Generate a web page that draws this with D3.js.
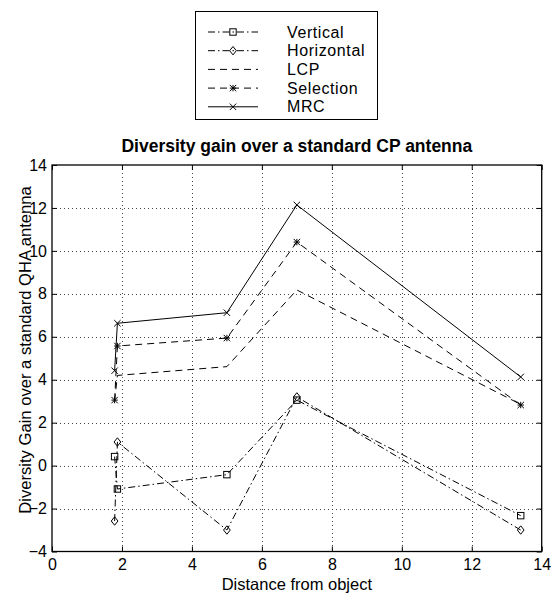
<!DOCTYPE html>
<html>
<head>
<meta charset="utf-8">
<script src="https://cdn.jsdelivr.net/npm/d3@7"></script>
<style>
  html, body { margin: 0; padding: 0; background: #fff; }
  svg { display: block; font-family: "Liberation Sans", Arial, Helvetica, sans-serif; }
</style>
</head>
<body>
<svg id="chart" width="551" height="593"></svg>
<script>
// ---- data ----
const distance   = [1.79, 1.87, 5, 7, 13.4];
const vertical   = [0.42, -1.09, -0.42, 3.05, -2.33];
const horizontal = [-2.58, 1.1, -3.0, 3.2, -3.0];
const lcp        = [3.0, 4.2, 4.61, 8.18, 2.85];
const selection  = [3.05, 5.57, 5.94, 10.41, 2.82];
const mrc        = [4.42, 6.63, 7.12, 12.14, 4.13];
const seriesNames = ["Vertical", "Horizontal", "LCP", "Selection", "MRC"];
const xTicks = [0, 2, 4, 6, 8, 10, 12, 14];
const yTicks = [-4, -2, 0, 2, 4, 6, 8, 10, 12, 14];
const titleText = "Diversity gain over a standard CP antenna";
const xLabelText = "Distance from object";
const yLabelText = "Diversity Gain over a standard QHA antenna";

// ---- layout ----
const svg = d3.select("#chart");
const L = 52, R = 541.7, T = 165, B = 551.5;
const x = d3.scaleLinear().domain([0, 14]).range([L, R]);
const y = d3.scaleLinear().domain([-4, 14]).range([B, T]);

const styles = {
  Vertical:   { dash: "7,3,1.5,3", marker: "square" },
  Horizontal: { dash: "7,3,1.5,3", marker: "diamond" },
  LCP:        { dash: "7,5", marker: null },
  Selection:  { dash: "7,5", marker: "star" },
  MRC:        { dash: null, marker: "x" }
};
const seriesData = { Vertical: vertical, Horizontal: horizontal, LCP: lcp, Selection: selection, MRC: mrc };

// grid
const grid = svg.append("g");
xTicks.slice(1, -1).forEach(t => {
  grid.append("line").attr("x1", Math.round(x(t)) + 0.5).attr("x2", Math.round(x(t)) + 0.5)
    .attr("y1", T).attr("y2", B).attr("stroke", "#444").attr("stroke-width", 1).attr("stroke-dasharray", "1,3");
});
yTicks.slice(1, -1).forEach(t => {
  grid.append("line").attr("y1", Math.round(y(t)) + 0.5).attr("y2", Math.round(y(t)) + 0.5)
    .attr("x1", L).attr("x2", R).attr("stroke", "#444").attr("stroke-width", 1).attr("stroke-dasharray", "1,3");
});

// axes (inner ticks on all sides)
const tickLen = 5;
const fontSize = 16;
svg.append("g").attr("transform", `translate(0,${B})`)
  .call(d3.axisBottom(x).tickValues(xTicks).tickSize(-tickLen).tickPadding(7).tickFormat(d3.format("d")))
  .call(g => { g.select(".domain").remove(); g.selectAll("text").attr("font-size", fontSize).attr("fill", "#000").attr("font-family", null); g.selectAll("line").attr("stroke", "#000"); });
svg.append("g").attr("transform", `translate(0,${T})`)
  .call(d3.axisTop(x).tickValues(xTicks).tickSize(-tickLen).tickFormat(""))
  .call(g => { g.select(".domain").remove(); g.selectAll("line").attr("stroke", "#000"); });
svg.append("g").attr("transform", `translate(${L},0)`)
  .call(d3.axisLeft(y).tickValues(yTicks).tickSize(-tickLen).tickPadding(5).tickFormat(d3.format("d")))
  .call(g => { g.select(".domain").remove(); g.selectAll("text").attr("font-size", fontSize).attr("fill", "#000").attr("font-family", null); g.selectAll("line").attr("stroke", "#000"); });
svg.append("g").attr("transform", `translate(${R},0)`)
  .call(d3.axisRight(y).tickValues(yTicks).tickSize(-tickLen).tickFormat(""))
  .call(g => { g.select(".domain").remove(); g.selectAll("line").attr("stroke", "#000"); });

// frame
svg.append("rect").attr("x", L).attr("y", T).attr("width", R - L).attr("height", B - T)
  .attr("fill", "none").attr("stroke", "#000").attr("stroke-width", 1.3);

// markers
function drawMarker(g, type, cx, cy) {
  const s = 3.2;
  if (type === "square") {
    g.append("rect").attr("x", cx - s).attr("y", cy - s).attr("width", 2 * s).attr("height", 2 * s)
      .attr("fill", "none").attr("stroke", "#000").attr("stroke-width", 1);
  } else if (type === "diamond") {
    const d = 4.2;
    g.append("path").attr("d", `M${cx},${cy - d}L${cx + d * 0.8},${cy}L${cx},${cy + d}L${cx - d * 0.8},${cy}Z`)
      .attr("fill", "none").attr("stroke", "#000").attr("stroke-width", 1);
  } else if (type === "x") {
    g.append("path").attr("d", `M${cx - s},${cy - s}L${cx + s},${cy + s}M${cx - s},${cy + s}L${cx + s},${cy - s}`)
      .attr("stroke", "#000").attr("stroke-width", 1);
  } else if (type === "star") {
    g.append("path").attr("d", `M${cx - s},${cy - s}L${cx + s},${cy + s}M${cx - s},${cy + s}L${cx + s},${cy - s}M${cx},${cy - s}L${cx},${cy + s}M${cx - s},${cy}L${cx + s},${cy}`)
      .attr("stroke", "#000").attr("stroke-width", 1);
  }
}

// lines
const line = d3.line().x(d => x(d[0])).y(d => y(d[1]));
const plot = svg.append("g");
seriesNames.forEach(name => {
  const pts = distance.map((d, i) => [d, seriesData[name][i]]);
  const st = styles[name];
  plot.append("path").attr("d", line(pts)).attr("fill", "none").attr("stroke", "#000")
    .attr("stroke-width", 1).attr("stroke-dasharray", st.dash);
  if (st.marker) pts.forEach(p => drawMarker(plot, st.marker, x(p[0]), y(p[1])));
});

// title and labels
svg.append("text").attr("x", (L + R) / 2).attr("y", 152).attr("text-anchor", "middle")
  .attr("font-size", 17.5).attr("font-weight", "bold").text(titleText);
svg.append("text").attr("x", (L + R) / 2).attr("y", 589.5).attr("text-anchor", "middle")
  .attr("font-size", 16.5).text(xLabelText);
svg.append("text").attr("transform", "translate(31,350) rotate(-90)").attr("text-anchor", "middle")
  .attr("font-size", 16.6).text(yLabelText);

// legend
const lg = svg.append("g");
lg.append("rect").attr("x", 195.5).attr("y", 11.5).attr("width", 182).attr("height", 108)
  .attr("fill", "#fff").attr("stroke", "#000").attr("stroke-width", 1);
seriesNames.forEach((name, i) => {
  const ly = 32 + i * 18.7;
  const st = styles[name];
  lg.append("line").attr("x1", 208).attr("x2", 258).attr("y1", ly).attr("y2", ly)
    .attr("stroke", "#000").attr("stroke-width", 1).attr("stroke-dasharray", st.dash);
  if (st.marker) drawMarker(lg, st.marker, 233, ly);
  lg.append("text").attr("x", 287).attr("y", ly).attr("dy", "0.35em").attr("font-size", fontSize)
    .attr("letter-spacing", "0.6px").text(name);
});
</script>
</body>
</html>
